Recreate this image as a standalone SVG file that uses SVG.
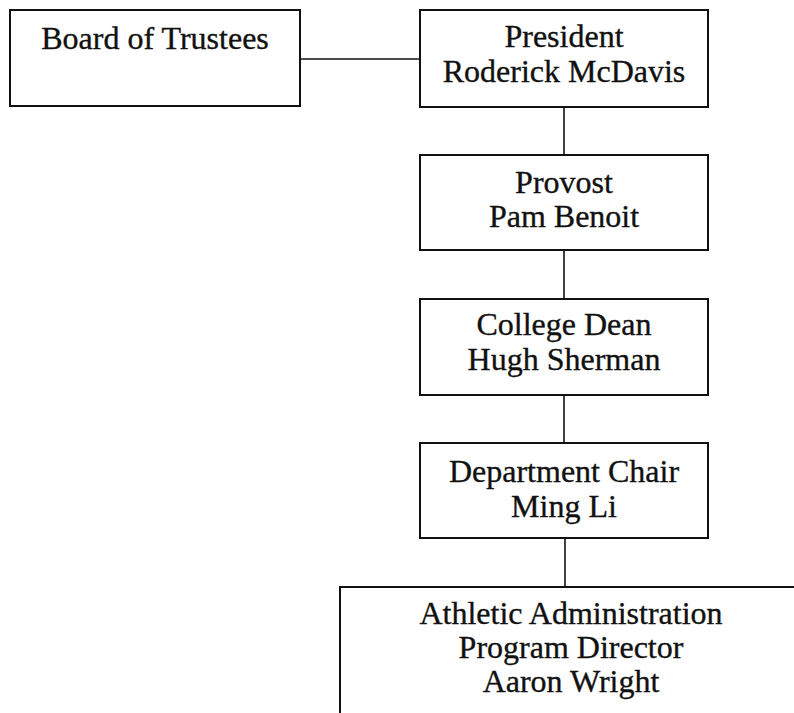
<svg xmlns="http://www.w3.org/2000/svg" width="794" height="713" viewBox="0 0 794 713">
<style>
.box{fill:#fff;stroke:#111;stroke-width:2}
.conn{fill:none;stroke:#111;stroke-width:1.6}
text{font-family:"Liberation Serif","Times New Roman",serif;font-size:32px;fill:#111;stroke:#111;stroke-width:0.35;text-anchor:middle}
</style>
<rect width="794" height="713" fill="#fff"/>
<g id="connectors">
<line class="conn" x1="300" y1="59" x2="420" y2="59"/>
<line class="conn" x1="564" y1="107" x2="564" y2="155"/>
<line class="conn" x1="564" y1="250" x2="564" y2="299"/>
<line class="conn" x1="564" y1="395" x2="564" y2="443"/>
<line class="conn" x1="565" y1="538" x2="565" y2="587"/>
</g>
<g id="board">
<rect class="box" x="10" y="10" width="290" height="96"/>
<text x="155" y="49">Board of Trustees</text>
</g>
<g id="president">
<rect class="box" x="420" y="10" width="288" height="97"/>
<text x="564" y="47">President</text>
<text x="564" y="82">Roderick McDavis</text>
</g>
<g id="provost">
<rect class="box" x="420" y="155" width="288" height="95"/>
<text x="564" y="193">Provost</text>
<text x="564" y="227">Pam Benoit</text>
</g>
<g id="dean">
<rect class="box" x="420" y="299" width="288" height="96"/>
<text x="564" y="335">College Dean</text>
<text x="564" y="370">Hugh Sherman</text>
</g>
<g id="chair">
<rect class="box" x="420" y="443" width="288" height="95"/>
<text x="564" y="482">Department Chair</text>
<text x="564" y="517">Ming Li</text>
</g>
<g id="athletic">
<path class="box" d="M340,720 V587 H800"/>
<text x="571" y="624">Athletic Administration</text>
<text x="571" y="658">Program Director</text>
<text x="571" y="692">Aaron Wright</text>
</g>
</svg>
